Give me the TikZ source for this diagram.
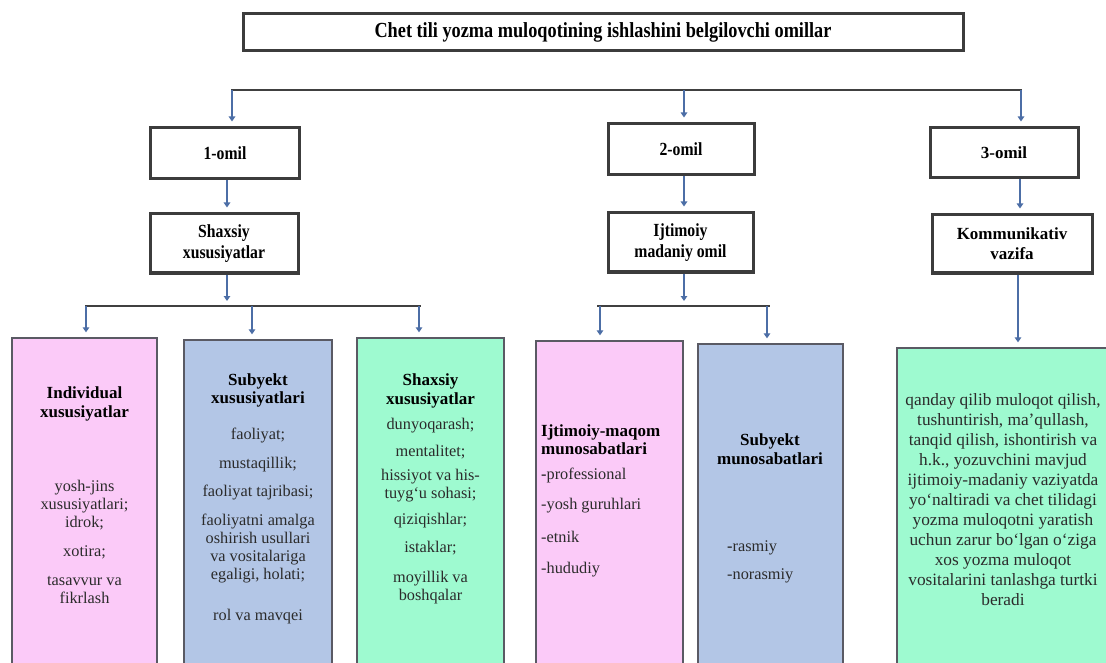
\documentclass[tikz,border=0pt]{standalone}
\usepackage{fontspec}
\setmainfont{Liberation Serif}
\newfontfamily\narrowfont[FakeStretch=0.85]{Liberation Serif}
\usetikzlibrary{arrows.meta}
\definecolor{pinkc}{HTML}{FBCAF8}
\definecolor{bluec}{HTML}{B3C6E6}
\definecolor{greenc}{HTML}{9EFAD0}
\definecolor{arrowc}{HTML}{4C6EA6}
\definecolor{linec}{HTML}{404040}
\definecolor{framec}{HTML}{3C3C3C}
\definecolor{colframe}{HTML}{5A5A64}
\definecolor{txtc}{HTML}{2B2B2B}
\begin{document}
\begin{tikzpicture}[x=1pt,y=-1pt,
  frame/.style={draw=framec, line width=3pt, fill=white, inner sep=0pt},
  colbox/.style={draw=colframe, line width=1.3pt, inner sep=0pt},
  arr/.style={draw=arrowc, line width=2.4pt, -{Triangle[length=5pt,width=6.5pt]}, shorten >=5pt},
  hline/.style={draw=linec, line width=2pt},
  t/.style={font=\fontsize{16.3}{18.3}\selectfont, text=txtc, inner sep=0pt, align=center},
  tb/.style={font=\fontsize{17}{18.5}\selectfont\bfseries, text=black, inner sep=0pt, align=center},
  tl/.style={font=\fontsize{16.3}{18.3}\selectfont, text=txtc, inner sep=0pt, anchor=west, align=left},
  hd/.style={font=\narrowfont\fontsize{18.5}{21}\selectfont\bfseries, text=black, align=center, inner sep=0pt},
  hdn/.style={font=\fontsize{17}{20}\selectfont\bfseries, text=black, align=center, inner sep=0pt},
]
\useasboundingbox (0,0) rectangle (1106,663);
\fill[white] (0,0) rectangle (1106,663);

% title
\node[frame, minimum width=720pt, minimum height=37pt] (title) at (603,32.5) {};
\node[hd, font=\narrowfont\fontsize{21.5}{23}\selectfont\bfseries] (titletext) at (title.center) {Chet tili yozma muloqotining ishlashini belgilovchi omillar};

% top distribution line
\coordinate (ta) at (231,90);
\coordinate (tb) at (1022,90);
\draw[hline] (ta) -- (tb);
\coordinate (d1) at (232,90);
\coordinate (d2) at (684,90);
\coordinate (d3) at (1021,90);

% level 1
\node[frame, minimum width=149pt, minimum height=51pt] (o1) at (225,153.5) {};
\node[hd] (o1t) at (o1.center) {1-omil};
\node[frame, minimum width=146pt, minimum height=51pt] (o2) at (681,149.5) {};
\node[hd] (o2t) at (o2.center) {2-omil};
\node[frame, minimum width=148pt, minimum height=50pt] (o3) at (1004,153) {};
\node[hdn] (o3t) at (o3.center) {3-omil};

\draw[arr] (d1) -- (d1 |- o1.north);
\draw[arr] (d2) -- (d2 |- o2.north);
\draw[arr] (d3) -- (d3 |- o3.north);

% level 2
\node[frame, minimum width=148pt, minimum height=59pt] (s1) at (224,243.5) {};
\node[hd] (s1t) at (s1.center) {Shaxsiy\\xususiyatlar};
\node[frame, minimum width=145pt, minimum height=59pt] (s2) at (680.5,242.5) {};
\node[hd] (s2t) at (s2.center) {Ijtimoiy\\madaniy omil};
\node[frame, minimum width=160pt, minimum height=58pt] (s3) at (1012,244) {};
\node[hdn] (s3t) at (s3.center) {Kommunikativ\\vazifa};

\coordinate (a1) at (227,0);
\coordinate (a2) at (684,0);
\coordinate (a3) at (1020,0);
\draw[arr] (a1 |- o1.south) -- (a1 |- s1.north);
\draw[arr] (a2 |- o2.south) -- (a2 |- s2.north);
\draw[arr] (a3 |- o3.south) -- (a3 |- s3.north);

% second distribution lines
\coordinate (la) at (85,306);
\coordinate (lb) at (421,306);
\coordinate (lc) at (597,306);
\coordinate (ld) at (770,306);
\draw[hline] (la) -- (lb);
\draw[hline] (lc) -- (ld);
\draw[arr] (a1 |- s1.south) -- (a1 |- la);
\draw[arr] (a2 |- s2.south) -- (a2 |- lc);

% bottom boxes
\node[colbox, fill=pinkc, minimum width=145pt, minimum height=332pt] (b1) at (84.5,504) {};
\node[colbox, fill=bluec, minimum width=148pt, minimum height=330pt] (b2) at (258,505) {};
\node[colbox, fill=greenc, minimum width=147pt, minimum height=332pt] (b3) at (430.5,504) {};
\node[colbox, fill=pinkc, minimum width=147pt, minimum height=329pt] (b4) at (609.5,505.5) {};
\node[colbox, fill=bluec, minimum width=145pt, minimum height=326pt] (b5) at (770.5,507) {};
\node[colbox, fill=greenc, minimum width=223pt, minimum height=322pt] (b6) at (1008.5,509) {};

\coordinate (e1) at (86,306);
\coordinate (e2) at (252,306);
\coordinate (e3) at (419,306);
\coordinate (e4) at (600,306);
\coordinate (e5) at (767,306);
\draw[arr] (e1) -- (e1 |- b1.north);
\draw[arr] (e2) -- (e2 |- b2.north);
\draw[arr] (e3) -- (e3 |- b3.north);
\draw[arr] (e4) -- (e4 |- b4.north);
\draw[arr] (e5) -- (e5 |- b5.north);
\draw[arr] (1018,0 |- s3.south) -- (1018,0 |- b6.north);

% box 1 texts
\node[tb] (b1h) at (84.5,404) {Individual\\xususiyatlar};
\node[t] (b1a) at (84.5,505) {yosh-jins\\xususiyatlari;\\idrok;};
\node[t] (b1b) at (84.5,552) {xotira;};
\node[t] (b1c) at (84.5,590) {tasavvur va\\fikrlash};

% box 2 texts
\node[tb] (b2h) at (258,390.5) {Subyekt\\xususiyatlari};
\node[t] (b2a) at (258,436) {faoliyat;};
\node[t] (b2b) at (258,465) {mustaqillik;};
\node[t] (b2c) at (258,493) {faoliyat tajribasi;};
\node[t] (b2d) at (258,548.5) {faoliyatni amalga\\oshirish usullari\\va vositalariga\\egaligi, holati;};
\node[t] (b2e) at (258,617) {rol va mavqei};

% box 3 texts
\node[tb] (b3h) at (430.5,391) {Shaxsiy\\xususiyatlar};
\node[t] (b3a) at (430.5,426) {dunyoqarash;};
\node[t] (b3b) at (430.5,452) {mentalitet;};
\node[t] (b3c) at (430.5,485.5) {hissiyot va his-\\tuyg‘u sohasi;};
\node[t] (b3d) at (430.5,521) {qiziqishlar;};
\node[t] (b3e) at (430.5,548) {istaklar;};
\node[t] (b3f) at (430.5,587.5) {moyillik va\\boshqalar};

% box 4 texts
\node[tb, anchor=west, align=left] (b4h) at (541,439.5) {Ijtimoiy-maqom\\munosabatlari};
\node[tl] (b4a) at (541,475) {\textbf{-}professional};
\node[tl] (b4b) at (541,506) {-yosh guruhlari};
\node[tl] (b4c) at (541,537) {-etnik};
\node[tl] (b4d) at (541,570) {-hududiy};

% box 5 texts
\node[tb] (b5h) at (770,449) {Subyekt\\munosabatlari};
\node[tl] (b5a) at (727,548) {\textbf{-}rasmiy};
\node[tl] (b5b) at (727,576) {-norasmiy};

% box 6 text
\node[t, font=\fontsize{17.3}{20}\selectfont] (b6t) at (1003,500) {qanday qilib muloqot qilish,\\tushuntirish, ma’qullash,\\tanqid qilish, ishontirish va\\h.k., yozuvchini mavjud\\ijtimoiy-madaniy vaziyatda\\yo‘naltiradi va chet tilidagi\\yozma muloqotni yaratish\\uchun zarur bo‘lgan o‘ziga\\xos yozma muloqot\\vositalarini tanlashga turtki\\beradi};
\end{tikzpicture}
\end{document}
